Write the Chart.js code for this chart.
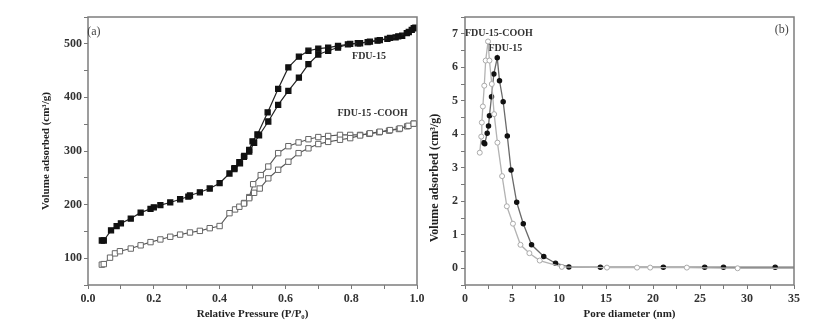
<!DOCTYPE html>
<html>
<head>
<meta charset="utf-8">
<script src="https://cdn.jsdelivr.net/npm/chart.js@4/dist/chart.umd.min.js"></script>
<style>
  body { margin: 0; background: #fff; }
  #wrap { position: relative; width: 832px; height: 327px; overflow: hidden; }
  #chartA { position: absolute; left: 0; top: 0; }
  #chartB { position: absolute; left: 420px; top: 0; }
</style>
</head>
<body>
<div id="wrap">
  <canvas id="chartA" width="440" height="327"></canvas>
  <canvas id="chartB" width="412" height="327"></canvas>
</div>
<script>
// (a) N2 isotherms : relative pressure / volume adsorbed (cm3/g)
var fduAdsP = [0.042,0.048,0.07,0.087,0.10,0.13,0.16,0.19,0.20,0.22,0.25,0.28,0.305,0.31,0.34,0.37,0.40,0.43,0.445,0.462,0.474,0.49,0.505,0.52,0.548,0.578,0.609,0.641,0.67,0.70,0.73,0.76,0.797,0.827,0.857,0.887,0.918,0.943,0.969,0.984,0.995];
var fduAdsV = [133,133,152,160,165,174,185,192,195,199,204,210,215,217,223,230,240,258,266,277,289,299,315,329,355,386,412,437,462,480,487,493,500,501,504,507,511,514,520,526,530];
var fduDesP = [0.99,0.975,0.955,0.935,0.91,0.88,0.85,0.82,0.79,0.76,0.73,0.70,0.67,0.641,0.609,0.578,0.546,0.515,0.50,0.49,0.475,0.46,0.445];
var fduDesV = [529,522,515,512,509,506,503,501,499,496,493,491,487,476,456,416,372,331,318,302,291,279,268];
var coohAdsP = [0.042,0.048,0.067,0.082,0.097,0.13,0.16,0.19,0.22,0.25,0.28,0.31,0.34,0.37,0.40,0.43,0.447,0.46,0.474,0.49,0.505,0.522,0.548,0.578,0.609,0.64,0.67,0.70,0.73,0.766,0.797,0.827,0.857,0.887,0.918,0.948,0.974,0.99];
var coohAdsV = [88,89,101,109,113,118,124,130,135,140,144,148,151,156,160,184,191,196,202,212,222,230,249,265,280,296,305,313,317,321,324,329,333,336,339,342,347,351];
var coohDesP = [0.99,0.97,0.945,0.915,0.885,0.855,0.827,0.797,0.766,0.73,0.70,0.67,0.64,0.609,0.578,0.548,0.525,0.502,0.49,0.475];
var coohDesV = [351,346,341,338,335,332,330,330,330,328,326,322,316,309,296,271,255,238,214,203];

// (b) pore size distribution : pore diameter (nm) / volume
var coohPoreD = [1.57,1.73,1.79,1.9,2.05,2.2,2.45,2.6,2.85,3.1,3.45,3.95,4.45,5.1,5.9,6.85,7.95,10.3,15.1,18.3,19.7,23.6,29.0,36];
var coohPoreV = [3.45,3.93,4.35,4.83,5.45,6.2,6.77,6.2,5.5,4.6,3.75,2.75,1.85,1.33,0.7,0.45,0.23,0.04,0.02,0.02,0.02,0.02,0.0,0.0];
var fduPoreD = [2.0,2.1,2.36,2.5,2.6,2.82,3.07,3.43,3.67,4.06,4.5,4.9,5.5,6.2,7.08,8.38,9.63,11.05,14.4,21.1,25.5,27.5,33.0,36];
var fduPoreV = [3.75,3.72,4.03,4.25,4.55,5.12,5.8,6.28,5.6,4.97,3.95,2.93,1.97,1.33,0.7,0.35,0.15,0.04,0.03,0.03,0.03,0.03,0.03,0.03];

// tick labels
var ticksA_x = [0, 0.2, 0.4, 0.6, 0.8, 1.0];
var ticksA_y = [100, 200, 300, 400, 500];
var ticksB_x = [0, 5, 10, 15, 20, 25, 30, 35];
var ticksB_y = [0, 1, 2, 3, 4, 5, 6, 7];

// text inside the plots [text, x, y, bold]
var notesA = [["(a)", 0.018, 523, false], ["FDU-15", 0.854, 476, true], ["FDU-15 -COOH", 0.865, 370, true]];
var notesB = [["FDU-15-COOH", 3.6, 7.0, true], ["FDU-15", 4.3, 6.55, true], ["(b)", 33.7, 7.13, false]];

var serif = "'Liberation Serif', 'DejaVu Serif', serif";

function pts(xs, ys){
    var out = [];
    for (var i = 0; i < xs.length; i++) out.push({x: xs[i], y: ys[i]});
    return out;
}

function hasTick(list, v){
    for (var i = 0; i < list.length; i++) if (Math.abs(list[i] - v) < 1e-6) return true;
    return false;
}

// frame round the plot + notes
function framePlugin(notes, extra){
    return {
        id: 'frame',
        afterDraw: function(chart){
            var ctx = chart.ctx, a = chart.chartArea;
            ctx.save();
            ctx.strokeStyle = '#7d7d7d';
            ctx.lineWidth = 1.5;
            ctx.strokeRect(a.left, a.top, a.right - a.left, a.bottom - a.top);
            ctx.textBaseline = 'middle';
            ctx.textAlign = 'center';
            for (var i = 0; i < notes.length; i++) {
                var n = notes[i];
                ctx.font = (n[3] ? 'bold 10px ' : '12px ') + serif;
                ctx.fillStyle = n[3] ? '#333' : '#444';
                ctx.fillText(n[0], chart.scales.x.getPixelForValue(n[1]), chart.scales.y.getPixelForValue(n[2]));
            }
            if (extra) extra(ctx);
            ctx.restore();
        }
    };
}

function axisGrid(){
    return {drawOnChartArea: false, drawTicks: true, tickLength: 4, color: '#777', lineWidth: 1};
}

var chartA = new Chart(document.getElementById('chartA'), {
    type: 'line',
    data: {
        datasets: [
            {label: 'FDU-15 ads', data: pts(fduAdsP, fduAdsV), borderColor: '#222', backgroundColor: '#111',
             pointStyle: 'rect', pointRadius: 3.6, pointBorderColor: '#111', borderWidth: 1.2},
            {label: 'FDU-15 des', data: pts(fduDesP, fduDesV), borderColor: '#222', backgroundColor: '#111',
             pointStyle: 'rect', pointRadius: 3.6, pointBorderColor: '#111', borderWidth: 1.2},
            {label: 'FDU-15-COOH ads', data: pts(coohAdsP, coohAdsV), borderColor: '#555', backgroundColor: '#fff',
             pointStyle: 'rect', pointRadius: 3.8, pointBorderColor: '#666', pointBorderWidth: 1, borderWidth: 1.1},
            {label: 'FDU-15-COOH des', data: pts(coohDesP, coohDesV), borderColor: '#555', backgroundColor: '#fff',
             pointStyle: 'rect', pointRadius: 3.8, pointBorderColor: '#666', pointBorderWidth: 1, borderWidth: 1.1}
        ]
    },
    options: {
        responsive: false,
        animation: false,
        devicePixelRatio: 1,
        layout: {padding: {top: 17, right: 23, left: 0, bottom: 0}},
        plugins: {legend: {display: false}, tooltip: {enabled: false}},
        scales: {
            x: {
                type: 'linear', min: 0, max: 1,
                afterFit: function(s){ s.height = 42; },
                grid: axisGrid(), border: {display: false},
                ticks: {stepSize: 0.1, autoSkip: false, maxRotation: 0, padding: 3, color: '#333',
                        font: {family: serif, size: 12, weight: 'bold'},
                        callback: function(v){ return hasTick(ticksA_x, v) ? v.toFixed(1) : ''; }},
                title: {display: true, text: 'Relative Pressure (P/P\u2080)', color: '#222',
                        font: {family: serif, size: 11, weight: 'bold'}, padding: {top: 0, bottom: 6}}
            },
            y: {
                type: 'linear', min: 50, max: 550,
                afterFit: function(s){ s.width = 88; },
                grid: axisGrid(), border: {display: false},
                ticks: {stepSize: 50, autoSkip: false, padding: 2, color: '#333',
                        font: {family: serif, size: 12, weight: 'bold'},
                        callback: function(v){ return hasTick(ticksA_y, v) ? v : ''; }},
                title: {display: true, text: 'Volume adsorbed (cm\u00b3/g)', color: '#222',
                        font: {family: serif, size: 11, weight: 'bold'}, padding: {top: 40, bottom: 0}}
            }
        }
    },
    plugins: [framePlugin(notesA)]
});

var chartB = new Chart(document.getElementById('chartB'), {
    type: 'line',
    data: {
        datasets: [
            {label: 'FDU-15-COOH', data: pts(coohPoreD, coohPoreV), borderColor: '#b3b3b3', backgroundColor: '#fff',
             pointStyle: 'circle', pointRadius: 2.5, pointBorderColor: '#aaa', pointBorderWidth: 1, borderWidth: 1.3},
            {label: 'FDU-15', data: pts(fduPoreD, fduPoreV), borderColor: '#6a6a6a', backgroundColor: '#111',
             pointStyle: 'circle', pointRadius: 2.1, pointBorderColor: '#111', borderWidth: 1.3}
        ]
    },
    options: {
        responsive: false,
        animation: false,
        devicePixelRatio: 1,
        layout: {padding: {top: 17, right: 38, left: 0, bottom: 0}},
        plugins: {legend: {display: false}, tooltip: {enabled: false}},
        scales: {
            x: {
                type: 'linear', min: 0, max: 35,
                afterFit: function(s){ s.height = 42; },
                grid: axisGrid(), border: {display: false},
                ticks: {stepSize: 2.5, autoSkip: false, maxRotation: 0, padding: 3, color: '#333',
                        font: {family: serif, size: 12, weight: 'bold'},
                        callback: function(v){ return hasTick(ticksB_x, v) ? v : ''; }},
                title: {display: true, text: 'Pore diameter (nm)', color: '#222',
                        font: {family: serif, size: 11, weight: 'bold'}, padding: {top: 0, bottom: 6}}
            },
            y: {
                type: 'linear', min: -0.5, max: 7.5,
                afterFit: function(s){ s.width = 45; },
                grid: axisGrid(), border: {display: false},
                ticks: {stepSize: 0.5, autoSkip: false, padding: 3, color: '#333',
                        font: {family: serif, size: 12, weight: 'bold'},
                        callback: function(v){ return hasTick(ticksB_y, v) ? v : ''; }},
                title: {display: false}
            }
        }
    },
    plugins: [framePlugin(notesB, function(ctx){
        // y axis title of (b) sits a bit low in the original
        ctx.save();
        ctx.translate(15, 178);
        ctx.rotate(-Math.PI / 2);
        ctx.font = 'bold 12px ' + serif;
        ctx.fillStyle = '#222';
        ctx.textAlign = 'center';
        ctx.textBaseline = 'middle';
        ctx.fillText('Volume adsorbed (cm\u00b3/g)', 0, 0);
        ctx.restore();
    })]
});
</script>
</body>
</html>
